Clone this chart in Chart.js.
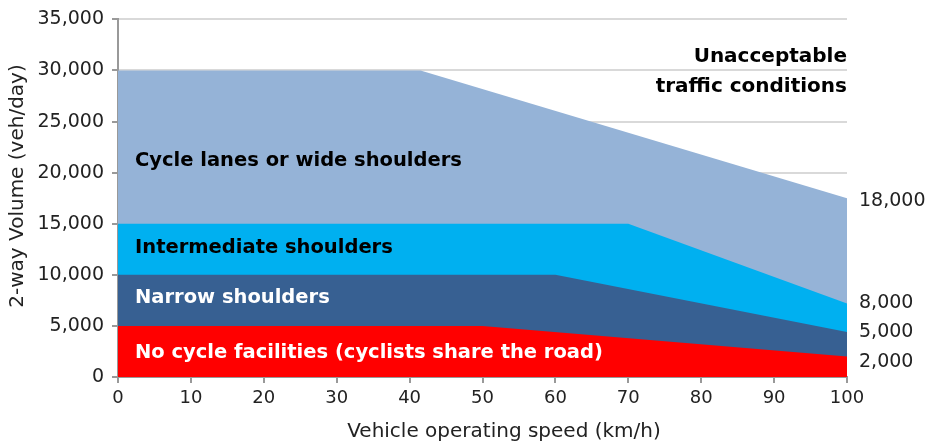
<!DOCTYPE html>
<html>
<head>
<meta charset="utf-8">
<script src="https://cdn.jsdelivr.net/npm/chart.js@4"></script>
<style>
  html, body { margin: 0; padding: 0; background: #fff; }
  #wrap { width: 926px; height: 447px; }
</style>
</head>
<body>
<div id="wrap"><canvas id="c"></canvas></div>
<script>
// 데이터 - break points (speed km/h, volume veh/day)
const noCycleSpeed = [0, 50, 100];
const noCycleVol   = [5000, 5000, 2000];
const narrowSpeed  = [0, 60, 100];
const narrowVol    = [10000, 10000, 4400];
const interSpeed   = [0, 70, 100];
const interVol     = [15000, 15000, 7200];
const laneSpeed    = [0, 41.5, 100];
const laneVol      = [30000, 30000, 17500];

const zoneLabels = [
  'No cycle facilities (cyclists share the road)',
  'Narrow shoulders',
  'Intermediate shoulders',
  'Cycle lanes or wide shoulders'
];
const zoneLabelY = [2400, 7750, 12600, 21150];
const rightLabels = ['2,000', '5,000', '8,000', '18,000'];
const rightLabelY = [1450, 4400, 7250, 17200];

const FONT = '"DejaVu Sans", sans-serif';

function pts(xs, ys) {
  return xs.map((x, i) => ({ x: x, y: ys[i] }));
}

function area(label, xs, ys, color) {
  return {
    label: label,
    data: pts(xs, ys),
    backgroundColor: color,
    borderWidth: 0,
    pointRadius: 0,
    fill: 'origin',
    tension: 0
  };
}

// 그림 위 글자 + 축 제목
const textPlugin = {
  id: 'texts',
  afterDatasetsDraw(chart) {
    const ctx = chart.ctx;
    const xs = chart.scales.x, ys = chart.scales.y;
    ctx.save();
    ctx.textBaseline = 'middle';
    ctx.font = 'bold 19.5px ' + FONT;
    ctx.textAlign = 'left';
    const colors = ['#fff', '#fff', '#000', '#000'];
    zoneLabels.forEach((t, i) => {
      ctx.fillStyle = colors[i];
      ctx.fillText(t, xs.getPixelForValue(0) + 17, ys.getPixelForValue(zoneLabelY[i]));
    });
    ctx.fillStyle = '#000';
    ctx.textAlign = 'right';
    ctx.font = 'bold 20px ' + FONT;
    ctx.fillText('Unacceptable', xs.getPixelForValue(100), ys.getPixelForValue(31300));
    ctx.fillText('traffic conditions', xs.getPixelForValue(100), ys.getPixelForValue(28450));
    ctx.font = '19px ' + FONT;
    ctx.textAlign = 'left';
    ctx.fillStyle = '#222';
    rightLabels.forEach((t, i) => {
      ctx.fillText(t, xs.getPixelForValue(100) + 12, ys.getPixelForValue(rightLabelY[i]));
    });
    // axis titles
    ctx.font = '20px ' + FONT;
    ctx.textAlign = 'center';
    ctx.fillText('Vehicle operating speed (km/h)', 504, 432);
    ctx.translate(18, 186);
    ctx.rotate(-Math.PI / 2);
    ctx.fillText('2-way Volume (veh/day)', 0, 0);
    ctx.restore();
  }
};

new Chart(document.getElementById('c'), {
  type: 'line',
  data: {
    datasets: [
      area('No cycle facilities', noCycleSpeed, noCycleVol, '#ff0000'),
      area('Narrow shoulders', narrowSpeed, narrowVol, '#376092'),
      area('Intermediate shoulders', interSpeed, interVol, '#00b0f0'),
      area('Cycle lanes or wide shoulders', laneSpeed, laneVol, '#95b3d7')
    ]
  },
  options: {
    responsive: true,
    maintainAspectRatio: false,
    animation: false,
    layout: { padding: { left: 0, right: 79, top: 18, bottom: 0 } },
    plugins: {
      legend: { display: false },
      tooltip: { enabled: false }
    },
    scales: {
      x: {
        type: 'linear',
        min: 0,
        max: 100,
        border: { color: '#999', width: 2 },
        grid: { drawOnChartArea: false, drawTicks: true, tickLength: 6, tickColor: '#999', lineWidth: 2 },
        ticks: { stepSize: 10, color: '#222', font: { family: FONT, size: 18 }, padding: 5, maxRotation: 0 },
        afterFit(s) { s.height = 70; }
      },
      y: {
        min: 0,
        max: 35000,
        border: { color: '#999', width: 2 },
        grid: { color: '#d9d9d9', lineWidth: 2, tickLength: 6, tickColor: '#999' },
        ticks: {
          stepSize: 5000, color: '#222', font: { family: FONT, size: 19 }, padding: 8,
          callback: v => v.toLocaleString('en-US')
        },
        afterFit(s) { s.width = 118; }
      }
    }
  },
  plugins: [textPlugin]
});
</script>
</body>
</html>
